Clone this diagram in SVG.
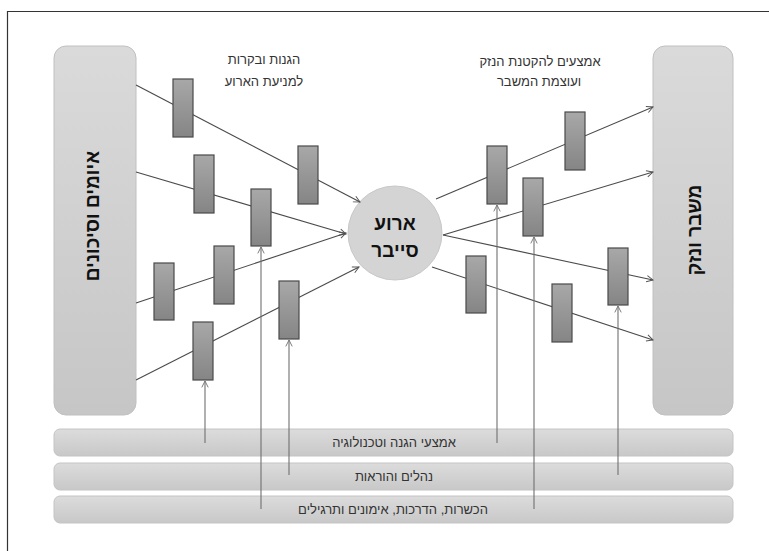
<svg xmlns="http://www.w3.org/2000/svg" width="769" height="551" viewBox="0 0 769 551">
  <defs>
    <linearGradient id="gBig" x1="0" y1="0" x2="0" y2="1">
      <stop offset="0" stop-color="#dadada"/>
      <stop offset="1" stop-color="#c6c6c6"/>
    </linearGradient>
    <linearGradient id="gBar" x1="0" y1="0" x2="0" y2="1">
      <stop offset="0" stop-color="#dcdcdc"/>
      <stop offset="1" stop-color="#c8c8c8"/>
    </linearGradient>
    <linearGradient id="gSmall" x1="0" y1="0" x2="0" y2="1">
      <stop offset="0" stop-color="#a8a8a8"/>
      <stop offset="1" stop-color="#858585"/>
    </linearGradient>
    <marker id="arr" viewBox="0 0 10 10" refX="9" refY="5" markerWidth="8" markerHeight="8" markerUnits="userSpaceOnUse" orient="auto">
      <path d="M1,1 L9,5 L1,9" fill="none" stroke="#555" stroke-width="1.2"/>
    </marker>
    <marker id="arrV" viewBox="0 0 10 10" refX="9" refY="5" markerWidth="8" markerHeight="8" markerUnits="userSpaceOnUse" orient="auto">
      <path d="M1,1 L9,5 L1,9" fill="none" stroke="#777" stroke-width="1.2"/>
    </marker>
  </defs>
  <style>
    .big{fill:url(#gBig);stroke:#c0c0c0;stroke-width:1}
    .bar{fill:url(#gBar);stroke:#c4c4c4;stroke-width:1}
    .sm{fill:url(#gSmall);stroke:#4a4a4a;stroke-width:1.2}
    .ln{stroke:#4a4a4a;stroke-width:1.1;fill:none;marker-end:url(#arr)}
    .vl{stroke:#707070;stroke-width:1.1;fill:none;marker-end:url(#arrV)}
    .t{font-family:"Liberation Sans","DejaVu Sans",sans-serif;fill:#333;text-anchor:middle;direction:rtl}
    .tb{font-family:"Liberation Sans","DejaVu Sans",sans-serif;fill:#111;font-weight:bold;text-anchor:middle;direction:rtl}
  </style>
  <rect width="769" height="551" fill="#ffffff"/>
  <path d="M7.5,551 L7.5,11.5 L769,11.5" fill="none" stroke="#333" stroke-width="1.2"/>

  <g id="threats">
    <rect class="big" x="54" y="46" width="82" height="369" rx="12"/>
    <text class="tb" font-size="19" transform="translate(99,216) rotate(-90)">איומים וסיכונים</text>
  </g>
  <g id="crisis">
    <rect class="big" x="653" y="46" width="80" height="369" rx="12"/>
    <text class="tb" font-size="19" transform="translate(701,230) rotate(-90)">משבר ונזק</text>
  </g>
  <g id="event">
    <circle cx="395" cy="233" r="47" fill="#d4d4d4" stroke="#c8c8c8"/>
    <text class="tb" font-size="19" x="395" y="230">ארוע</text>
    <text class="tb" font-size="19" x="395" y="257">סייבר</text>
  </g>
  <g id="label-left">
    <text class="t" font-size="13" x="264" y="64">הגנות ובקרות</text>
    <text class="t" font-size="13" x="264" y="86">למניעת הארוע</text>
  </g>
  <g id="label-right">
    <text class="t" font-size="13" x="540" y="66">אמצעים להקטנת הנזק</text>
    <text class="t" font-size="13" x="539" y="86">ועוצמת המשבר</text>
  </g>
  <g id="bar-tech">
    <rect class="bar" x="54" y="429" width="679" height="27" rx="6"/>
    <text class="t" font-size="13" x="394" y="447">אמצעי הגנה וטכנולוגיה</text>
  </g>
  <g id="bar-procedures">
    <rect class="bar" x="54" y="463" width="679" height="27" rx="6"/>
    <text class="t" font-size="13" x="394" y="481">נהלים והוראות</text>
  </g>
  <g id="bar-training">
    <rect class="bar" x="54" y="496" width="679" height="27" rx="6"/>
    <text class="t" font-size="13" x="393" y="514">הכשרות, הדרכות, אימונים ותרגילים</text>
  </g>

  <g id="connectors">
    <line class="ln" x1="136" y1="85" x2="360" y2="202"/>
    <line class="ln" x1="136" y1="172" x2="346" y2="234"/>
    <line class="ln" x1="136" y1="303" x2="346" y2="233"/>
    <line class="ln" x1="136" y1="380" x2="359" y2="267"/>
    <line class="ln" x1="436" y1="199" x2="653" y2="107"/>
    <line class="ln" x1="443" y1="235" x2="653" y2="172"/>
    <line class="ln" x1="443" y1="235" x2="653" y2="280"/>
    <line class="ln" x1="432" y1="267" x2="653" y2="340"/>
  </g>

  <g id="controls">
    <rect class="sm" x="173" y="79" width="20" height="58"/>
    <rect class="sm" x="298" y="146" width="20" height="58"/>
    <rect class="sm" x="194" y="155" width="20" height="58"/>
    <rect class="sm" x="251" y="189" width="20" height="57"/>
    <rect class="sm" x="154" y="263" width="20" height="57"/>
    <rect class="sm" x="214" y="246" width="20" height="58"/>
    <rect class="sm" x="193" y="322" width="20" height="58"/>
    <rect class="sm" x="279" y="281" width="20" height="58"/>
    <rect class="sm" x="487" y="146" width="20" height="58"/>
    <rect class="sm" x="565" y="112" width="20" height="58"/>
    <rect class="sm" x="523" y="178" width="20" height="58"/>
    <rect class="sm" x="608" y="248" width="20" height="57"/>
    <rect class="sm" x="466" y="256" width="20" height="57"/>
    <rect class="sm" x="552" y="284" width="20" height="58"/>
  </g>

  <g id="support-connectors">
    <line class="vl" x1="205" y1="443" x2="205" y2="381"/>
    <line class="vl" x1="261" y1="509" x2="261" y2="247"/>
    <line class="vl" x1="289" y1="475" x2="289" y2="340"/>
    <line class="vl" x1="497" y1="443" x2="497" y2="205"/>
    <line class="vl" x1="534" y1="509" x2="534" y2="237"/>
    <line class="vl" x1="618" y1="475" x2="618" y2="306"/>
  </g>
</svg>
